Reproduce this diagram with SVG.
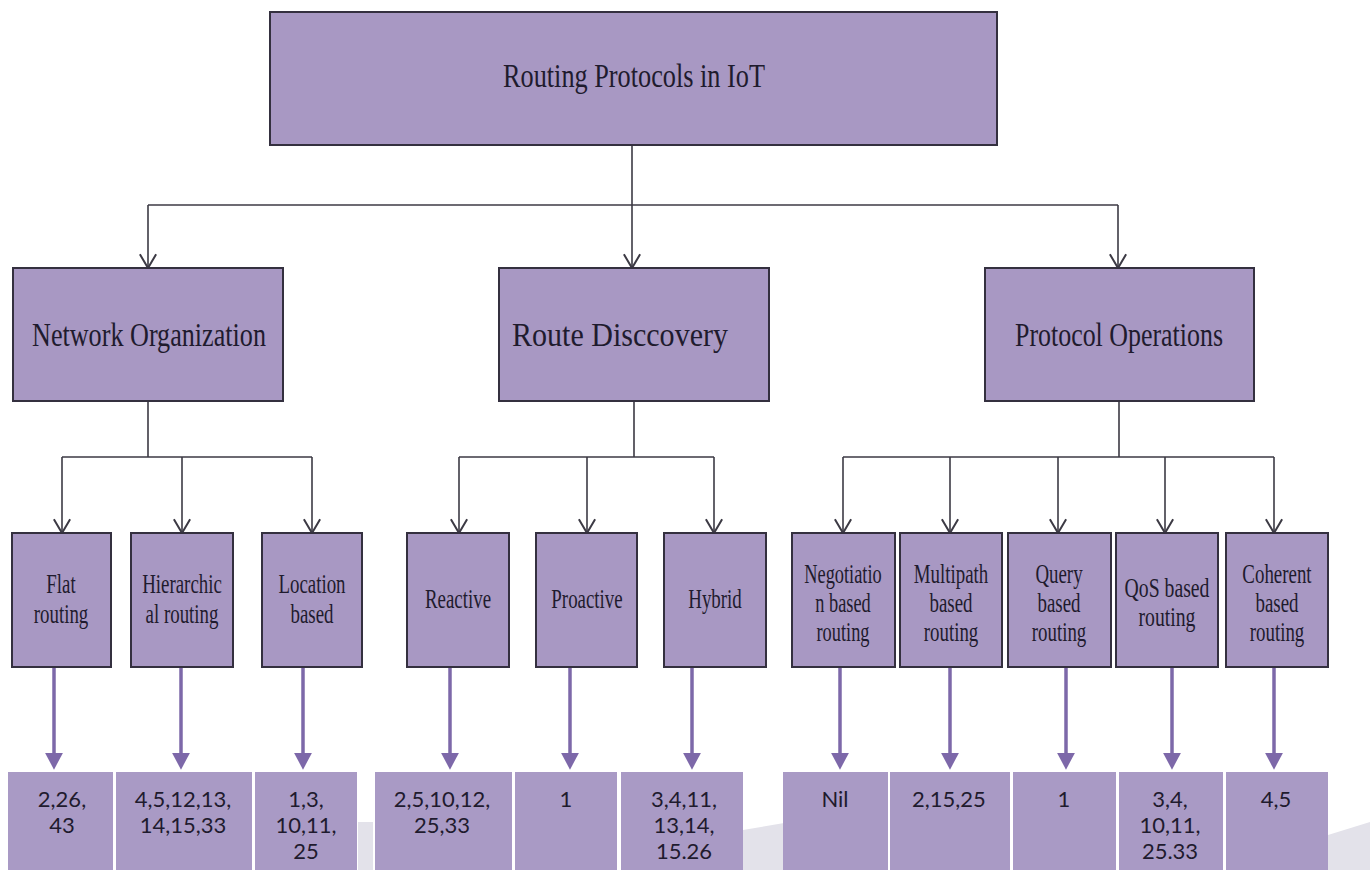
<svg xmlns="http://www.w3.org/2000/svg" width="1370" height="870" viewBox="0 0 1370 870">
  <defs>
    <style>
      .box { fill: #a898c3; stroke: #34303f; stroke-width: 2; }
      .res { fill: #a99ac5; stroke: none; }
      .conn { fill: none; stroke: #3c3a44; stroke-width: 1.6; }
      .parr { fill: none; stroke: #7d68a9; stroke-width: 3.5; }
      .ser { font-family: "Liberation Serif", "Times New Roman", serif; fill: #1f1b2e; text-anchor: middle; }
      .t1 { font-size: 33px; }
      .t3 { font-size: 27px; }
      .num { font-family: Lato, "Liberation Sans", sans-serif; font-size: 22px; fill: #1f1b2e; text-anchor: middle; }
      .deco { fill: #e3e2ea; }
    </style>
    <marker id="vhead" markerUnits="userSpaceOnUse" markerWidth="20" markerHeight="20" refX="11" refY="0" orient="auto" viewBox="-1 -8 14 16" overflow="visible">
      <path d="M0,-6.5 L11,0 L0,6.5" fill="none" stroke="#3c3a44" stroke-width="1.6"/>
    </marker>
    <marker id="phead" markerUnits="userSpaceOnUse" markerWidth="20" markerHeight="20" refX="0" refY="0" orient="auto" viewBox="0 -9 16 18" overflow="visible">
      <path d="M0,-8 L15,0 L0,8 Z" fill="#7d68a9"/>
    </marker>
  </defs>

  <rect width="1370" height="870" fill="#ffffff"/>

  <!-- background decorations -->
  <g id="decor">
    <rect class="deco" x="358" y="822" width="15" height="48"/>
    <polygon class="deco" points="743,870 743,830 790,822 790,870"/>
    <polygon class="deco" points="1328,870 1328,835 1370,822 1370,870"/>
  </g>

  <!-- connectors -->
  <g id="connectors">
    <path class="conn" d="M632,145 V205"/>
    <path class="conn" d="M148,205 H1118"/>
    <path class="conn" d="M148,205 V268" marker-end="url(#vhead)"/>
    <path class="conn" d="M632,205 V268" marker-end="url(#vhead)"/>
    <path class="conn" d="M1118,205 V268" marker-end="url(#vhead)"/>

    <path class="conn" d="M148,401 V457 M62,457 H312"/>
    <path class="conn" d="M62,457 V533" marker-end="url(#vhead)"/>
    <path class="conn" d="M182,457 V533" marker-end="url(#vhead)"/>
    <path class="conn" d="M312,457 V533" marker-end="url(#vhead)"/>

    <path class="conn" d="M634,401 V457 M459,457 H714"/>
    <path class="conn" d="M459,457 V533" marker-end="url(#vhead)"/>
    <path class="conn" d="M587,457 V533" marker-end="url(#vhead)"/>
    <path class="conn" d="M714,457 V533" marker-end="url(#vhead)"/>

    <path class="conn" d="M1119,401 V457 M843,457 H1274"/>
    <path class="conn" d="M843,457 V533" marker-end="url(#vhead)"/>
    <path class="conn" d="M950,457 V533" marker-end="url(#vhead)"/>
    <path class="conn" d="M1058,457 V533" marker-end="url(#vhead)"/>
    <path class="conn" d="M1165,457 V533" marker-end="url(#vhead)"/>
    <path class="conn" d="M1274,457 V533" marker-end="url(#vhead)"/>

    <path class="parr" d="M54,668 V753" marker-end="url(#phead)"/>
    <path class="parr" d="M181,668 V753" marker-end="url(#phead)"/>
    <path class="parr" d="M303,668 V753" marker-end="url(#phead)"/>
    <path class="parr" d="M450,668 V753" marker-end="url(#phead)"/>
    <path class="parr" d="M570,668 V753" marker-end="url(#phead)"/>
    <path class="parr" d="M692,668 V753" marker-end="url(#phead)"/>
    <path class="parr" d="M840,668 V753" marker-end="url(#phead)"/>
    <path class="parr" d="M950,668 V753" marker-end="url(#phead)"/>
    <path class="parr" d="M1066,668 V753" marker-end="url(#phead)"/>
    <path class="parr" d="M1172,668 V753" marker-end="url(#phead)"/>
    <path class="parr" d="M1274,668 V753" marker-end="url(#phead)"/>
  </g>

  <!-- root -->
  <g id="root">
    <rect class="box" x="270" y="12" width="727" height="133"/>
    <text class="ser t1" x="634" y="87" textLength="262" lengthAdjust="spacingAndGlyphs">Routing Protocols in IoT</text>
  </g>

  <!-- level 2 -->
  <g id="network-organization">
    <rect class="box" x="13" y="268" width="270" height="133"/>
    <text class="ser t1" x="149" y="346" textLength="234" lengthAdjust="spacingAndGlyphs">Network Organization</text>
  </g>
  <g id="route-discovery">
    <rect class="box" x="499" y="268" width="270" height="133"/>
    <text class="ser t1" x="620" y="346" textLength="216" lengthAdjust="spacingAndGlyphs">Route Disccovery</text>
  </g>
  <g id="protocol-operations">
    <rect class="box" x="985" y="268" width="269" height="133"/>
    <text class="ser t1" x="1119" y="346" textLength="208" lengthAdjust="spacingAndGlyphs">Protocol Operations</text>
  </g>

  <!-- level 3 -->
  <g id="flat-routing">
    <rect class="box" x="12" y="533" width="99" height="134"/>
    <text class="ser t3" transform="translate(61,0) scale(0.7,1)"><tspan x="0" y="593">Flat</tspan><tspan x="0" y="623">routing</tspan></text>
  </g>
  <g id="hierarchical-routing">
    <rect class="box" x="131" y="533" width="102" height="134"/>
    <text class="ser t3" transform="translate(182,0) scale(0.7,1)"><tspan x="0" y="593">Hierarchic</tspan><tspan x="0" y="623">al routing</tspan></text>
  </g>
  <g id="location-based">
    <rect class="box" x="262" y="533" width="100" height="134"/>
    <text class="ser t3" transform="translate(312,0) scale(0.7,1)"><tspan x="0" y="593">Location</tspan><tspan x="0" y="623">based</tspan></text>
  </g>
  <g id="reactive">
    <rect class="box" x="407" y="533" width="102" height="134"/>
    <text class="ser t3" transform="translate(458,0) scale(0.7,1)"><tspan x="0" y="608">Reactive</tspan></text>
  </g>
  <g id="proactive">
    <rect class="box" x="536" y="533" width="101" height="134"/>
    <text class="ser t3" transform="translate(587,0) scale(0.7,1)"><tspan x="0" y="608">Proactive</tspan></text>
  </g>
  <g id="hybrid">
    <rect class="box" x="664" y="533" width="102" height="134"/>
    <text class="ser t3" transform="translate(715,0) scale(0.7,1)"><tspan x="0" y="608">Hybrid</tspan></text>
  </g>
  <g id="negotiation-based-routing">
    <rect class="box" x="792" y="533" width="103" height="134"/>
    <text class="ser t3" transform="translate(843,0) scale(0.68,1)"><tspan x="0" y="583">Negotiatio</tspan><tspan x="0" y="612">n based</tspan><tspan x="0" y="641">routing</tspan></text>
  </g>
  <g id="multipath-based-routing">
    <rect class="box" x="900" y="533" width="102" height="134"/>
    <text class="ser t3" transform="translate(951,0) scale(0.7,1)"><tspan x="0" y="583">Multipath</tspan><tspan x="0" y="612">based</tspan><tspan x="0" y="641">routing</tspan></text>
  </g>
  <g id="query-based-routing">
    <rect class="box" x="1008" y="533" width="103" height="134"/>
    <text class="ser t3" transform="translate(1059,0) scale(0.7,1)"><tspan x="0" y="583">Query</tspan><tspan x="0" y="612">based</tspan><tspan x="0" y="641">routing</tspan></text>
  </g>
  <g id="qos-based-routing">
    <rect class="box" x="1116" y="533" width="102" height="134"/>
    <text class="ser t3" transform="translate(1167,0) scale(0.73,1)"><tspan x="0" y="597">QoS based</tspan><tspan x="0" y="626">routing</tspan></text>
  </g>
  <g id="coherent-based-routing">
    <rect class="box" x="1226" y="533" width="102" height="134"/>
    <text class="ser t3" transform="translate(1277,0) scale(0.7,1)"><tspan x="0" y="583">Coherent</tspan><tspan x="0" y="612">based</tspan><tspan x="0" y="641">routing</tspan></text>
  </g>

  <!-- bottom reference cells -->
  <g id="ref-flat">
    <rect class="res" x="8" y="772" width="105" height="100"/>
    <text class="num"><tspan x="62" y="807">2,26,</tspan><tspan x="62" y="833">43</tspan></text>
  </g>
  <g id="ref-hierarchical">
    <rect class="res" x="116" y="772" width="136" height="100"/>
    <text class="num"><tspan x="183" y="807">4,5,12,13,</tspan><tspan x="183" y="833">14,15,33</tspan></text>
  </g>
  <g id="ref-location">
    <rect class="res" x="255" y="772" width="102" height="100"/>
    <text class="num"><tspan x="306" y="807">1,3,</tspan><tspan x="306" y="833">10,11,</tspan><tspan x="306" y="859">25</tspan></text>
  </g>
  <g id="ref-reactive">
    <rect class="res" x="375" y="772" width="137" height="100"/>
    <text class="num"><tspan x="442" y="807">2,5,10,12,</tspan><tspan x="442" y="833">25,33</tspan></text>
  </g>
  <g id="ref-proactive">
    <rect class="res" x="515" y="772" width="102" height="100"/>
    <text class="num"><tspan x="566" y="807">1</tspan></text>
  </g>
  <g id="ref-hybrid">
    <rect class="res" x="621" y="772" width="122" height="100"/>
    <text class="num"><tspan x="684" y="807">3,4,11,</tspan><tspan x="684" y="833">13,14,</tspan><tspan x="684" y="859">15.26</tspan></text>
  </g>
  <g id="ref-negotiation">
    <rect class="res" x="783" y="772" width="105" height="100"/>
    <text class="num"><tspan x="835" y="807">Nil</tspan></text>
  </g>
  <g id="ref-multipath">
    <rect class="res" x="890" y="772" width="120" height="100"/>
    <text class="num"><tspan x="949" y="807">2,15,25</tspan></text>
  </g>
  <g id="ref-query">
    <rect class="res" x="1013" y="772" width="103" height="100"/>
    <text class="num"><tspan x="1064" y="807">1</tspan></text>
  </g>
  <g id="ref-qos">
    <rect class="res" x="1119" y="772" width="104" height="100"/>
    <text class="num"><tspan x="1170" y="807">3,4,</tspan><tspan x="1170" y="833">10,11,</tspan><tspan x="1170" y="859">25.33</tspan></text>
  </g>
  <g id="ref-coherent">
    <rect class="res" x="1226" y="772" width="102" height="100"/>
    <text class="num"><tspan x="1276" y="807">4,5</tspan></text>
  </g>
</svg>
